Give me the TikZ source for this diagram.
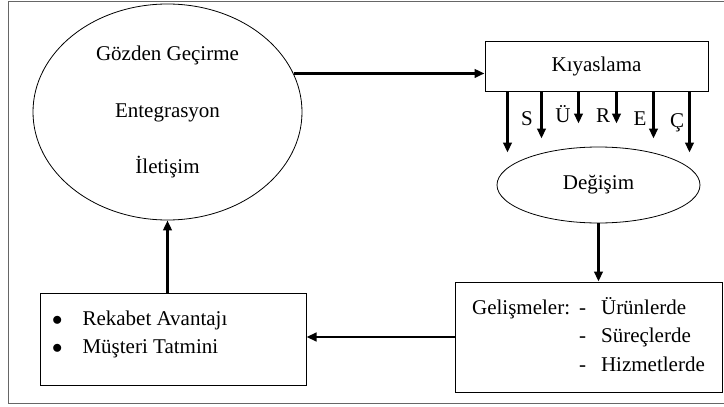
\documentclass[tikz,border=0pt]{standalone}
\usepackage{fontspec}
\setmainfont{Liberation Serif}
\usetikzlibrary{shapes.geometric,arrows.meta,calc}
\begin{document}
\begin{tikzpicture}[x=1pt,y=-1pt,
  every node/.style={font=\fontsize{21}{25}\selectfont},
  oval/.style={draw,ellipse,line width=0.8pt,inner sep=0pt},
  box/.style={draw,rectangle,line width=1pt,inner sep=0pt},
  arr/.style={line width=2.6pt,-{Triangle[length=10pt,width=8.5pt]}},
  letter/.style={anchor=base,inner sep=0pt}
]
\useasboundingbox (0,0) rectangle (724,407);
% outer frame (right side outside the picture)
\draw[line width=1pt,gray!80!black] (730,1) -- (8.5,1) -- (8.5,403) -- (730,403);

\node[oval,minimum width=269pt,minimum height=216pt,align=center,
  font=\fontsize{21}{56.5}\selectfont] (big) at (167.5,112)
  {Gözden Geçirme\\Entegrasyon\\İletişim};

\node[box,minimum width=223pt,minimum height=50pt] (kiy) at (596.5,66) {Kıyaslama};

\node[oval,minimum width=203pt,minimum height=76pt] (deg) at (598.5,185) {Değişim};

\node[box,minimum width=267pt,minimum height=110pt,
  font=\fontsize{21}{28.5}\selectfont] (gel) at (588.5,337)
  {\begin{tabular}{@{}l@{\hspace{9pt}}l@{\hspace{15pt}}l@{}}
   Gelişmeler: & - & Ürünlerde\\
               & - & Süreçlerde\\
               & - & Hizmetlerde
   \end{tabular}};

\node[box,minimum width=266pt,minimum height=92pt] (adv) at (173,339) {};
\node[anchor=west,inner sep=0pt,font=\fontsize{21}{28}\selectfont] (advtext) at (52,334)
  {\begin{tabular}{@{}l@{\hspace{20pt}}l@{}}
   $\bullet$ & Rekabet Avantajı\\
   $\bullet$ & Müşteri Tatmini
   \end{tabular}};

% connectors
\draw[arr] (big.17.7) -- (big.17.7 -| kiy.west);
\draw[arr] ([xshift=23pt]kiy.south west) -- ++(0,61);
\draw[arr] ([xshift=57pt]kiy.south west) -- ++(0,47);
\draw[arr] ([xshift=94pt]kiy.south west) -- ++(0,32);
\draw[arr] ([xshift=132pt]kiy.south west) -- ++(0,32);
\draw[arr] ([xshift=169pt]kiy.south west) -- ++(0,47);
\draw[arr] ([xshift=205pt]kiy.south west) -- ++(0,61);

\node[letter] (lS) at (527,125) {S};
\node[letter] (lU) at (563,122) {Ü};
\node[letter] (lR) at (603,122) {R};
\node[letter] (lE) at (640,125) {E};
\node[letter] (lC) at (677,127) {Ç};

\draw[arr] (deg.south) -- (deg.south |- gel.north);
\draw[arr] (gel.west) -- (gel.west -| adv.east);
\draw[arr] (adv.north -| big.south) -- (big.south);
\end{tikzpicture}
\end{document}
